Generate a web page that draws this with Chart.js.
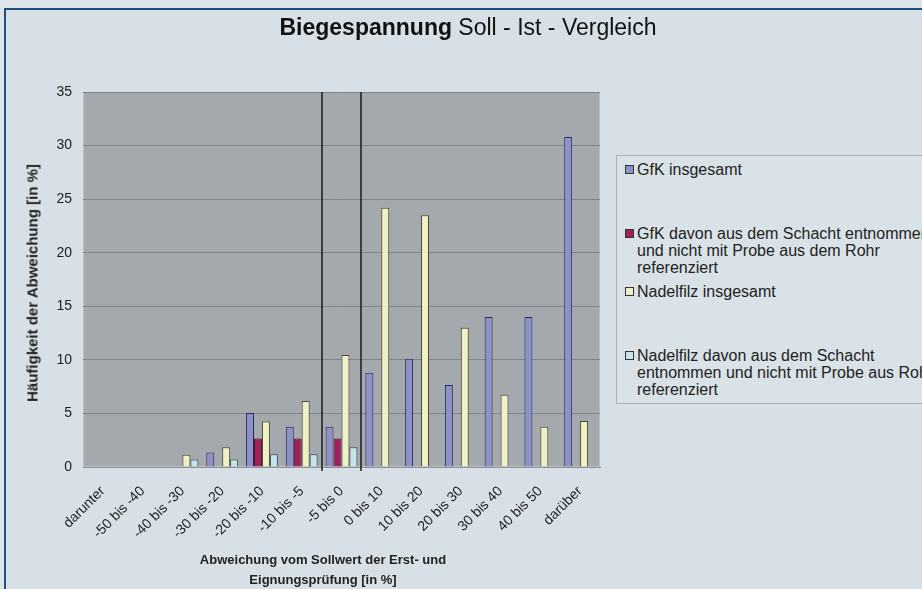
<!DOCTYPE html>
<html lang="de">
<head>
<meta charset="utf-8">
<title>Biegespannung Soll - Ist - Vergleich</title>
<script src="https://cdn.jsdelivr.net/npm/chart.js@4/dist/chart.umd.min.js"></script>
<style>
    html, body {
        margin: 0;
        padding: 0;
        width: 922px;
        height: 589px;
        overflow: hidden;
        background: #dde5ea;
        font-family: "Liberation Sans", Arial, sans-serif;
    }
    #frame {
        position: absolute;
        left: 4px;
        top: 8px;
        width: 930px;
        height: 600px;
        border-left: 2px solid #1f4f7a;
        border-top: 2px solid #1f4f7a;
        background: #d6e0e6;
    }
    #chart {
        position: absolute;
        left: 0;
        top: 0;
    }
    #title {
        position: absolute;
        left: 0;
        width: 936px;
        top: 14px;
        text-align: center;
        font-size: 23px;
        color: #111;
    }
    #xtitle {
        position: absolute;
        left: 163px;
        width: 320px;
        top: 550px;
        text-align: center;
        font-size: 13px;
        font-weight: bold;
        line-height: 20px;
        color: #222;
    }
    #ytitle {
        position: absolute;
        left: 32px;
        top: 283px;
        transform: translate(-50%, -50%) rotate(-90deg);
        white-space: nowrap;
        font-size: 15px;
        font-weight: bold;
        color: #222;
    }
    #legend {
        position: absolute;
        left: 616px;
        top: 155px;
        width: 340px;
        height: 247px;
        border: 1px solid #a7b1b7;
        background: #d9e2e7;
    }
    .item {
        position: absolute;
        left: 20px;
        font-size: 16px;
        line-height: 17px;
        color: #222;
        white-space: nowrap;
    }
    .item i {
        position: absolute;
        left: -12px;
        top: 4px;
        width: 7px;
        height: 7px;
        border: 1px solid #333;
    }
</style>
</head>
<body>
<div id="frame"></div>
<canvas id="chart" width="922" height="589"></canvas>
<div id="title"><b>Biegespannung</b> Soll - Ist - Vergleich</div>
<div id="ytitle">Häufigkeit der Abweichung [in %]</div>
<div id="xtitle">Abweichung vom Sollwert der Erst- und<br>Eignungsprüfung [in %]</div>
<div id="legend"></div>

<script>
// Kategorien (Abweichung in %)
const categories = ['darunter', '-50 bis -40', '-40 bis -30', '-30 bis -20', '-20 bis -10', '-10 bis -5',
    '-5 bis 0', '0 bis 10', '10 bis 20', '20 bis 30', '30 bis 40', '40 bis 50', 'darüber'];

// Häufigkeit in %
const gfkGesamt = [0, 0, 0, 1.35, 5.05, 3.75, 3.75, 8.8, 10.1, 7.65, 14.0, 14.0, 30.8];
const gfkSchacht = [0, 0, 0, 0, 2.65, 2.65, 2.65, 0, 0, 0, 0, 0, 0];
const nadelGesamt = [0, 0, 1.15, 1.85, 4.25, 6.15, 10.45, 24.2, 23.5, 13.0, 6.75, 3.75, 4.3];
const nadelSchacht = [0, 0, 0.7, 0.7, 1.2, 1.2, 1.85, 0, 0, 0, 0, 0, 0];

const yTicks = [0, 5, 10, 15, 20, 25, 30, 35];

const seriesNames = [
    'GfK insgesamt',
    'GfK davon aus dem Schacht entnommen\nund nicht mit Probe aus dem Rohr\nreferenziert',
    'Nadelfilz insgesamt',
    'Nadelfilz davon aus dem Schacht\nentnommen und nicht mit Probe aus Rohr\nreferenziert'
];
const fills = ['#8d91c6', '#a2205a', '#eef0c6', '#c6e5ea'];
const borders = ['#262a5c', '#4a0e2c', '#4b4a2a', '#2f4c50'];
const seriesData = [gfkGesamt, gfkSchacht, nadelGesamt, nadelSchacht];

// Legende (mehrzeilig) als HTML
const legendTops = [5, 69, 127, 191];
const legend = document.getElementById('legend');
seriesNames.forEach((name, i) => {
    const div = document.createElement('div');
    div.className = 'item';
    div.style.top = legendTops[i] + 'px';
    const box = document.createElement('i');
    box.style.background = fills[i];
    div.appendChild(box);
    name.split('\n').forEach((line, k) => {
        if (k > 0) div.appendChild(document.createElement('br'));
        div.appendChild(document.createTextNode(line));
    });
    legend.appendChild(div);
});

// Hintergrund der Zeichenfläche + Trennlinien um "-5 bis 0"
const plotDeco = {
    id: 'plotDeco',
    beforeDraw(chart) {
        const { ctx, chartArea: a } = chart;
        ctx.save();
        ctx.fillStyle = '#a3a9ad';
        ctx.fillRect(a.left, a.top, a.right - a.left, a.bottom - a.top);
        ctx.strokeStyle = '#b9c0c4';
        ctx.lineWidth = 1;
        ctx.strokeRect(a.left + 0.5, a.top + 0.5, a.right - a.left - 1, a.bottom - a.top - 1);
        ctx.restore();
    },
    afterDatasetsDraw(chart) {
        const { ctx, chartArea: a, scales } = chart;
        ctx.save();
        ctx.strokeStyle = '#1a1a1a';
        ctx.lineWidth = 1.5;
        [5.5, 6.5].forEach(v => {
            const x = Math.round(scales.x.getPixelForValue(v));
            ctx.beginPath();
            ctx.moveTo(x, a.top);
            ctx.lineTo(x, a.bottom + 4);
            ctx.stroke();
        });
        ctx.restore();
    }
};

new Chart(document.getElementById('chart'), {
    type: 'bar',
    data: {
        labels: categories,
        datasets: seriesData.map((d, i) => ({
            label: seriesNames[i],
            data: d,
            backgroundColor: fills[i],
            borderColor: borders[i],
            borderWidth: 1,
            categoryPercentage: 0.8,
            barPercentage: 1.0
        }))
    },
    options: {
        responsive: false,
        animation: false,
        layout: {
            padding: { left: 0, top: 92, right: 322, bottom: 0 }
        },
        plugins: {
            legend: { display: false },
            title: { display: false },
            tooltip: { enabled: false }
        },
        scales: {
            x: {
                afterFit: s => { s.height = 122; },
                grid: { display: false },
                border: { color: '#8a9296' },
                ticks: {
                    color: '#222',
                    font: { family: 'Liberation Sans', size: 14 },
                    maxRotation: 45,
                    minRotation: 45,
                    autoSkip: false,
                    padding: 8
                }
            },
            y: {
                min: 0,
                max: 35,
                afterFit: s => { s.width = 83; },
                afterBuildTicks: s => { s.ticks = yTicks.map(v => ({ value: v })); },
                grid: { color: '#7c858b', lineWidth: 1, drawTicks: false },
                border: { display: false },
                ticks: {
                    color: '#222',
                    font: { family: 'Liberation Sans', size: 14 },
                    padding: 11
                }
            }
        }
    },
    plugins: [plotDeco]
});
</script>
</body>
</html>
